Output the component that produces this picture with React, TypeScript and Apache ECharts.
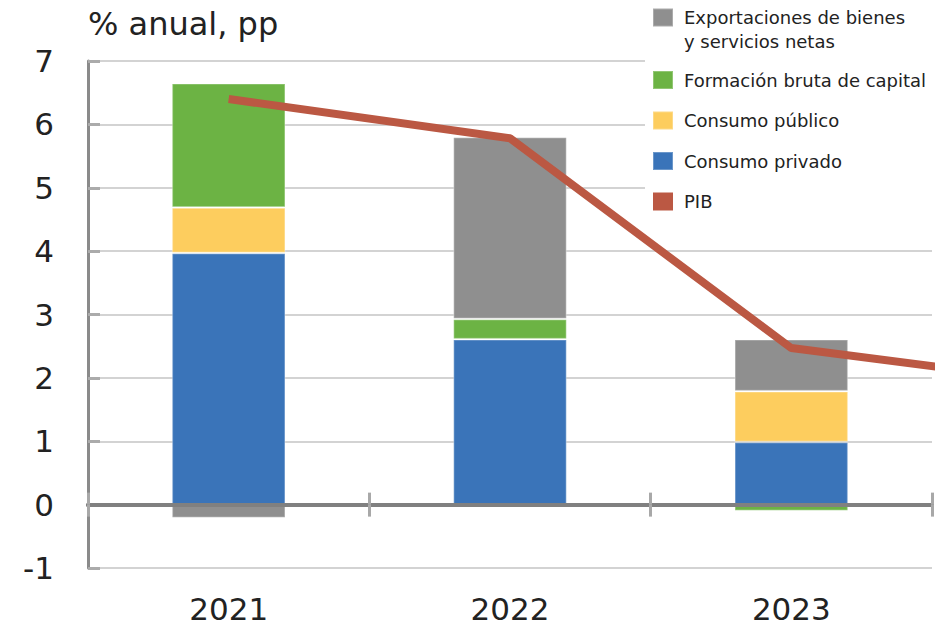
import React, { useEffect, useRef } from "react";
import * as echarts from "echarts";

const years = ["2021", "2022", "2023", "2024"];
const consumoPrivado = [3.97, 2.61, 0.99];
const consumoPublico = [0.72, 0, 0.8];
const formacionBruta = [1.96, 0.32, -0.1];
const exportacionesNetas = [-0.21, 2.87, 0.82];
const pib = [6.4, 5.78, 2.47, 1.9];
const yTicks = { min: -1, max: 7, interval: 1 };

const NAME_EXP = "Exportaciones de bienes y servicios netas";
const NAME_FBK = "Formación bruta de capital";
const NAME_CPUB = "Consumo público";
const NAME_CPRIV = "Consumo privado";
const NAME_PIB = "PIB";

const FONT = "DejaVu Sans";
const TXT = "#222222";

export default function App() {
  const ref = useRef<HTMLDivElement>(null);

  useEffect(() => {
    if (!ref.current) return;
    const chart = echarts.init(ref.current, null, { renderer: "svg" });

    const barBase = {
      type: "bar",
      stack: "total",
      barWidth: 114,
      xAxisIndex: 0,
      yAxisIndex: 0,
      z: 2,
    };
    const border = { borderColor: "rgba(255,255,255,0.25)", borderWidth: 1.5 };

    const catAxisCommon = {
      type: "category",
      data: years,
      max: 2,
      boundaryGap: true,
      splitLine: { show: false },
    };

    chart.setOption({
      animation: false,
      backgroundColor: "#ffffff",
      textStyle: { fontFamily: FONT },
      title: {
        text: "% anual, pp",
        left: 88,
        top: 8,
        padding: 0,
        textStyle: { fontSize: 32, fontWeight: "normal", color: TXT, fontFamily: FONT },
      },
      legend: {
        orient: "vertical",
        left: 645,
        top: -18.5,
        padding: [0, 8, 8, 7],
        backgroundColor: "#ffffff",
        icon: "rect",
        itemWidth: 20,
        itemHeight: 18,
        itemGap: 12.5,
        selectedMode: false,
        formatter: (name: string) =>
          name === NAME_EXP ? "\nExportaciones de bienes\ny servicios netas" : name,
        textStyle: {
          fontSize: 18,
          fontFamily: FONT,
          color: TXT,
          lineHeight: 28,
          padding: [0, 0, 0, 6],
        },
        data: [
          { name: NAME_EXP, textStyle: { lineHeight: 24 } },
          { name: NAME_FBK },
          { name: NAME_CPUB },
          { name: NAME_CPRIV },
          { name: NAME_PIB },
        ],
      },
      grid: { left: 88, right: 3, top: 61, bottom: 62, containLabel: false },
      xAxis: [
        {
          ...catAxisCommon,
          position: "bottom",
          axisLine: { show: false, onZero: false },
          axisTick: { show: false },
          axisLabel: { show: true, margin: 25, fontSize: 31, color: TXT, fontFamily: FONT },
        },
        {
          ...catAxisCommon,
          position: "bottom",
          axisLine: {
            show: true,
            onZero: true,
            onZeroAxisIndex: 0,
            lineStyle: { color: "#808080", width: 4 },
          },
          axisTick: { show: true, length: 12, lineStyle: { color: "#a8a8a8", width: 3 } },
          axisLabel: { show: false },
          z: 5,
        },
        {
          ...catAxisCommon,
          position: "top",
          axisLine: {
            show: true,
            onZero: true,
            onZeroAxisIndex: 0,
            lineStyle: { color: "#808080", width: 4 },
          },
          axisTick: { show: true, length: 12, lineStyle: { color: "#a8a8a8", width: 3 } },
          axisLabel: { show: false },
          z: 5,
        },
      ],
      yAxis: {
        type: "value",
        min: yTicks.min,
        max: yTicks.max,
        interval: yTicks.interval,
        axisLine: { show: true, lineStyle: { color: "#8a8a8a", width: 3 } },
        axisTick: { show: true, inside: true, length: 12, lineStyle: { color: "#ababab", width: 3 } },
        splitLine: { show: true, lineStyle: { color: "#d3d3d3", width: 2 } },
        axisLabel: { margin: 34, fontSize: 31, color: TXT, fontFamily: FONT },
      },
      series: [
        {
          ...barBase,
          name: NAME_CPRIV,
          data: consumoPrivado,
          itemStyle: { color: "#3a74b9", ...border },
        },
        {
          ...barBase,
          name: NAME_CPUB,
          data: consumoPublico,
          itemStyle: { color: "#fdcd5e", ...border },
        },
        {
          ...barBase,
          name: NAME_FBK,
          data: formacionBruta,
          itemStyle: { color: "#6cb344", ...border },
        },
        {
          ...barBase,
          name: NAME_EXP,
          data: exportacionesNetas,
          itemStyle: { color: "#8f8f8f", ...border },
        },
        {
          type: "line",
          name: NAME_PIB,
          data: pib,
          xAxisIndex: 0,
          yAxisIndex: 0,
          symbol: "none",
          clip: true,
          z: 4,
          lineStyle: { color: "#bb5843", width: 8 },
          itemStyle: { color: "#bb5843", borderWidth: 0 },
        },
      ],
    });

    return () => chart.dispose();
  }, []);

  return (
    <div
      ref={ref}
      style={{ position: "absolute", left: 0, top: 0, width: 935, height: 630 }}
    />
  );
}
